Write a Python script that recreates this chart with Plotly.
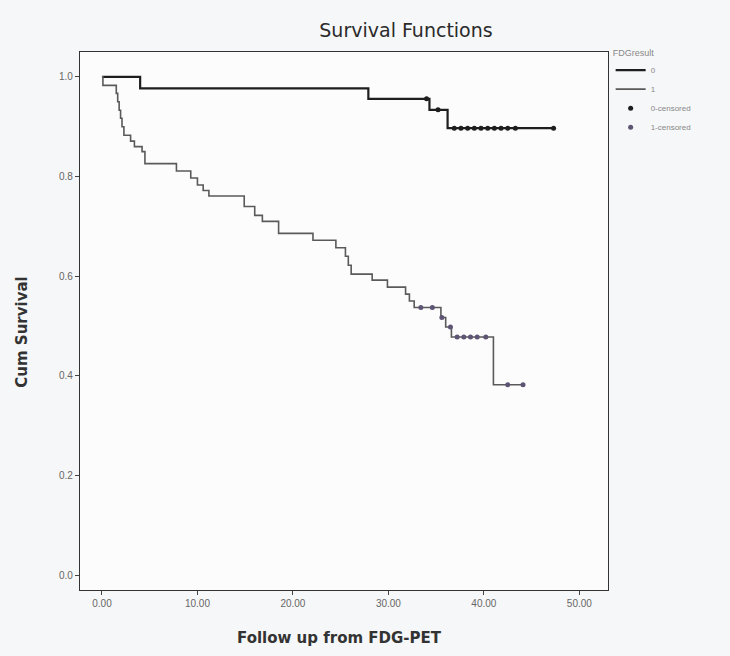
import plotly.graph_objects as go

# ---- data ----
# FDGresult = 0
g0_event_times = [4.0, 27.9, 34.3, 36.2]
g0_surv_after = [0.977, 0.956, 0.934, 0.897]
g0_censor_times = [34.0, 35.2, 36.9, 37.6, 38.3, 39.0, 39.7, 40.4, 41.1, 41.8, 42.5, 43.3, 47.3]
g0_end = 47.3

# FDGresult = 1
g1_event_times = [0.1, 1.5, 1.65, 1.8, 1.95, 2.1, 2.3, 3.0, 3.4, 4.2, 4.5, 7.8, 9.3, 10.0,
                  10.6, 11.2, 14.9, 16.0, 16.8, 18.5, 22.1, 24.5, 25.5, 25.8, 26.1, 28.3,
                  29.9, 31.8, 32.2, 32.7, 35.5, 36.0, 36.6, 41.0]
g1_surv_after = [0.983, 0.967, 0.950, 0.933, 0.917, 0.900, 0.883, 0.871, 0.860, 0.850, 0.826,
                 0.811, 0.797, 0.783, 0.772, 0.761, 0.740, 0.722, 0.710, 0.686, 0.672, 0.657,
                 0.640, 0.622, 0.604, 0.592, 0.578, 0.564, 0.550, 0.537, 0.517, 0.498, 0.478,
                 0.382]
g1_censor_times = [33.4, 34.6, 35.6, 36.5, 37.2, 37.9, 38.6, 39.3, 40.2, 42.5, 44.1]
g1_end = 44.1

x_ticks = [0, 10, 20, 30, 40, 50]
x_tick_labels = ["0.00", "10.00", "20.00", "30.00", "40.00", "50.00"]
y_ticks = [0.0, 0.2, 0.4, 0.6, 0.8, 1.0]
y_tick_labels = ["0.0", "0.2", "0.4", "0.6", "0.8", "1.0"]


def step_xy(times, surv, end):
    xs = [0.0] + list(times) + [end]
    ys = [1.0] + list(surv) + [surv[-1]]
    return xs, ys


def surv_at(times, surv, t):
    s = 1.0
    for tt, ss in zip(times, surv):
        if tt <= t:
            s = ss
    return s


c0 = "#1e1e1e"
c1 = "#5a5a5a"

fig = go.Figure()
x0, y0 = step_xy(g0_event_times, g0_surv_after, g0_end)
x1, y1 = step_xy(g1_event_times, g1_surv_after, g1_end)

fig.add_trace(go.Scatter(x=x0, y=y0, mode="lines", line=dict(shape="hv", color=c0, width=2.2),
                         name="0"))
fig.add_trace(go.Scatter(x=x1, y=y1, mode="lines", line=dict(shape="hv", color=c1, width=1.6),
                         name="1"))
fig.add_trace(go.Scatter(x=g0_censor_times,
                         y=[surv_at(g0_event_times, g0_surv_after, t) for t in g0_censor_times],
                         mode="markers", marker=dict(color=c0, size=5, symbol="circle"),
                         name="0-censored"))
fig.add_trace(go.Scatter(x=g1_censor_times,
                         y=[surv_at(g1_event_times, g1_surv_after, t) for t in g1_censor_times],
                         mode="markers", marker=dict(color="#5e5474", size=5, symbol="circle"),
                         name="1-censored"))

axis_common = dict(showline=True, mirror=True, linecolor="#333333", linewidth=1.3,
                   showgrid=False, zeroline=False, ticks="outside", ticklen=4,
                   tickcolor="#444444", tickfont=dict(size=10, color="#666666",
                                                      family="Liberation Sans"))

fig.update_layout(
    width=730, height=656,
    margin=dict(l=80, r=122, t=52, b=66),
    paper_bgcolor="#f6f7f8",
    plot_bgcolor="#fcfcfc",
    font=dict(family="Liberation Sans", color="#333333"),
    title=dict(text="Survival Functions", x=406 / 730, xref="container", xanchor="center",
               y=1 - 30 / 656, yref="container", yanchor="middle",
               font=dict(size=19, color="#2a2a2a", family="DejaVu Sans")),
    xaxis=dict(range=[-2.3, 53], tickvals=x_ticks, ticktext=x_tick_labels, **axis_common),
    yaxis=dict(range=[-0.03, 1.05], tickvals=y_ticks, ticktext=y_tick_labels, **axis_common),
    legend=dict(x=1.005, y=1.015, xanchor="left", yanchor="top",
                title=dict(text="FDGresult", font=dict(size=9, color="#888888")),
                font=dict(size=8, color="#888888"), bgcolor="rgba(0,0,0,0)",
                tracegroupgap=0, itemwidth=30),
    annotations=[
        dict(text="<b>Cum Survival</b>", x=-0.11, y=0.48, xref="paper", yref="paper",
             xanchor="center", yanchor="middle",
             textangle=-90, showarrow=False,
             font=dict(size=15, color="#333333", family="DejaVu Sans")),
        dict(text="<b>Follow up from FDG-PET</b>", x=0.492, y=-0.089, xref="paper",
             yref="paper", showarrow=False, yanchor="middle", xanchor="center",
             font=dict(size=15, color="#333333", family="DejaVu Sans")),
    ],
)

fig.write_html("out.html", config={"displayModeBar": False},
               post_script="document.body.style.margin='0px';document.body.style.background='#f6f7f8';")
